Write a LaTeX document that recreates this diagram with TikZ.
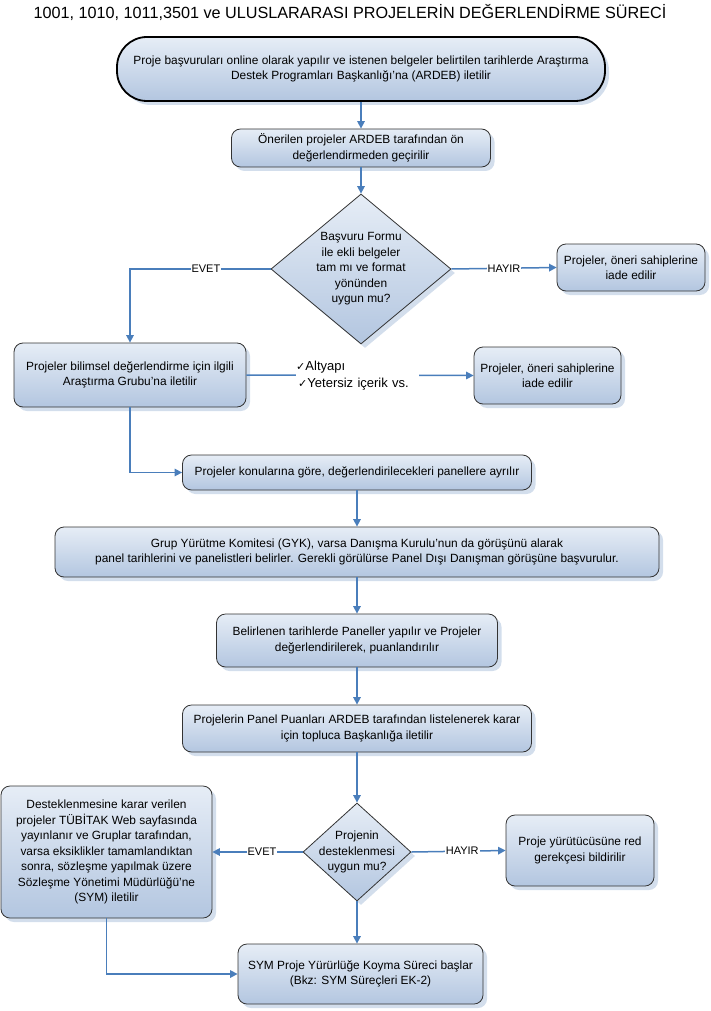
\documentclass[tikz,border=0pt]{standalone}
\usepackage{fontspec}
\setmainfont{Liberation Sans}
\newfontfamily\symfont{DejaVu Sans}
\usetikzlibrary{shapes.geometric,arrows.meta,shadows}
\definecolor{lineblue}{HTML}{4A7EBB}
\definecolor{boxtop}{HTML}{E6EDF6}
\definecolor{boxbot}{HTML}{B3C6E0}
\definecolor{boxborder}{HTML}{333333}
\definecolor{shadowc}{HTML}{D3DEEC}
\newcommand{\chk}{{\symfont\fontsize{11}{12}\selectfont ✓}}
\begin{document}
\begin{tikzpicture}[x=1pt,y=-1pt,
  txt/.style={font=\fontsize{11.9}{15.5}\selectfont},
  box/.style={txt, draw=boxborder, line width=0.8pt, rounded corners=9pt,
    top color=boxtop, bottom color=boxbot, align=center, inner sep=2pt,
    general shadow={fill=shadowc, shadow xshift=4pt, shadow yshift=-4pt}},
  term/.style={box, draw=black, line width=1.8pt, rounded corners=30pt},
  dia/.style={txt, diamond, draw=boxborder, line width=0.8pt, top color=boxtop,
    bottom color=boxbot, align=center, inner sep=-6pt,
    general shadow={fill=shadowc, shadow xshift=4pt, shadow yshift=-4pt}},
  conn/.style={draw=lineblue, line width=1.5pt},
  arr/.style={conn, -{Triangle[width=7.5pt,length=7.5pt]}},
  lbl/.style={fill=white, inner sep=1pt, font=\fontsize{11}{12}\selectfont}
]
\useasboundingbox (0,0) rectangle (711,1011);

\node[font=\fontsize{16.2}{18}\selectfont] (title) at (350,13)
  {1001, 1010, 1011,3501 ve ULUSLARARASI PROJELERİN DEĞERLENDİRME SÜRECİ};

\node[term, minimum width=488pt, minimum height=64pt] (n1) at (361,69)
  {Proje başvuruları online olarak yapılır ve istenen belgeler belirtilen tarihlerde Araştırma\\
   Destek Programları Başkanlığı’na (ARDEB) iletilir};
\node[box, minimum width=259pt, minimum height=38pt] (n2) at (361,148)
  {Önerilen projeler ARDEB tarafından ön\\ değerlendirmeden geçirilir};
\node[dia, minimum width=180pt, minimum height=150pt, aspect=1.2] (d1) at (361,269)
  {Başvuru Formu\\ ile ekli belgeler\\ tam mı ve format\\ yönünden\\ uygun mu?};
\node[box, minimum width=148pt, minimum height=47pt] (r1) at (631,267.5)
  {Projeler, öneri sahiplerine\\ iade edilir};
\node[box, minimum width=232pt, minimum height=64pt] (b3) at (130,375)
  {Projeler bilimsel değerlendirme için ilgili\\ Araştırma Grubu’na iletilir};
\node[box, minimum width=147pt, minimum height=57pt] (r2) at (547.5,375.5)
  {Projeler, öneri sahiplerine\\ iade edilir};
\node[box, minimum width=349pt, minimum height=35pt] (b4) at (357,472.5)
  {Projeler konularına göre, değerlendirilecekleri panellere ayrılır};
\node[box, minimum width=604pt, minimum height=50pt] (b5) at (357,552)
  {Grup Yürütme Komitesi (GYK), varsa Danışma Kurulu’nun da görüşünü alarak\\
   panel tarihlerini ve panelistleri belirler. Gerekli görülürse Panel Dışı Danışman görüşüne başvurulur.};
\node[box, minimum width=281pt, minimum height=53pt] (b6) at (357,640.5)
  {Belirlenen tarihlerde Paneller yapılır ve Projeler\\ değerlendirilerek, puanlandırılır};
\node[box, minimum width=349pt, minimum height=47pt] (b7) at (357,728.5)
  {Projelerin Panel Puanları ARDEB tarafından listelenerek karar\\ için topluca Başkanlığa iletilir};
\node[dia, minimum width=108pt, minimum height=98pt, aspect=1.1] (d2) at (357,852)
  {Projenin\\ desteklenmesi\\ uygun mu?};
\node[box, minimum width=211pt, minimum height=132pt] (bL) at (106.5,852)
  {Desteklenmesine karar verilen\\ projeler TÜBİTAK Web sayfasında\\ yayınlanır ve Gruplar tarafından,\\
   varsa eksiklikler tamamlandıktan\\ sonra, sözleşme yapılmak üzere\\ Sözleşme Yönetimi Müdürlüğü’ne\\ (SYM) iletilir};
\node[box, minimum width=148pt, minimum height=71pt] (r3) at (580,850.5)
  {Proje yürütücüsüne red\\ gerekçesi bildirilir};
\node[box, minimum width=245pt, minimum height=60pt] (b8) at (360.5,974)
  {SYM Proje Yürürlüğe Koyma Süreci başlar\\ (Bkz: SYM Süreçleri EK-2)};

% connectors
\draw[arr] (n1.south) -- (n2.north);
\draw[arr] (n2.south) -- (d1.north);
\draw[arr] (d1.west) -| node[lbl, pos=0.23] {EVET} (b3.north);
\draw[arr] (d1.east) -- node[lbl, pos=0.5] {HAYIR} (r1.west);
\draw[arr] (b3.east) -- node[fill=white, inner sep=0pt, pos=0.49, align=left,
   text width=123pt, font=\fontsize{13}{17}\selectfont]
   {\chk Altyapı\\ \hspace*{2pt}\chk Yetersiz içerik vs.} (r2.west);
\draw[arr] (b3.south) |- (b4.west);
\draw[arr] (b4.south) -- (b5.north);
\draw[arr] (b5.south) -- (b6.north);
\draw[arr] (b6.south) -- (b7.north);
\draw[arr] (b7.south) -- (d2.north);
\draw[arr] (d2.west) -- node[lbl, pos=0.45] {EVET} (bL.east);
\draw[arr] (d2.east) -- node[lbl, pos=0.54] {HAYIR} (r3.west);
\draw[arr] (d2.south) -- (d2.south |- b8.north);
\draw[arr] (bL.south) |- (b8.west);
\end{tikzpicture}
\end{document}
